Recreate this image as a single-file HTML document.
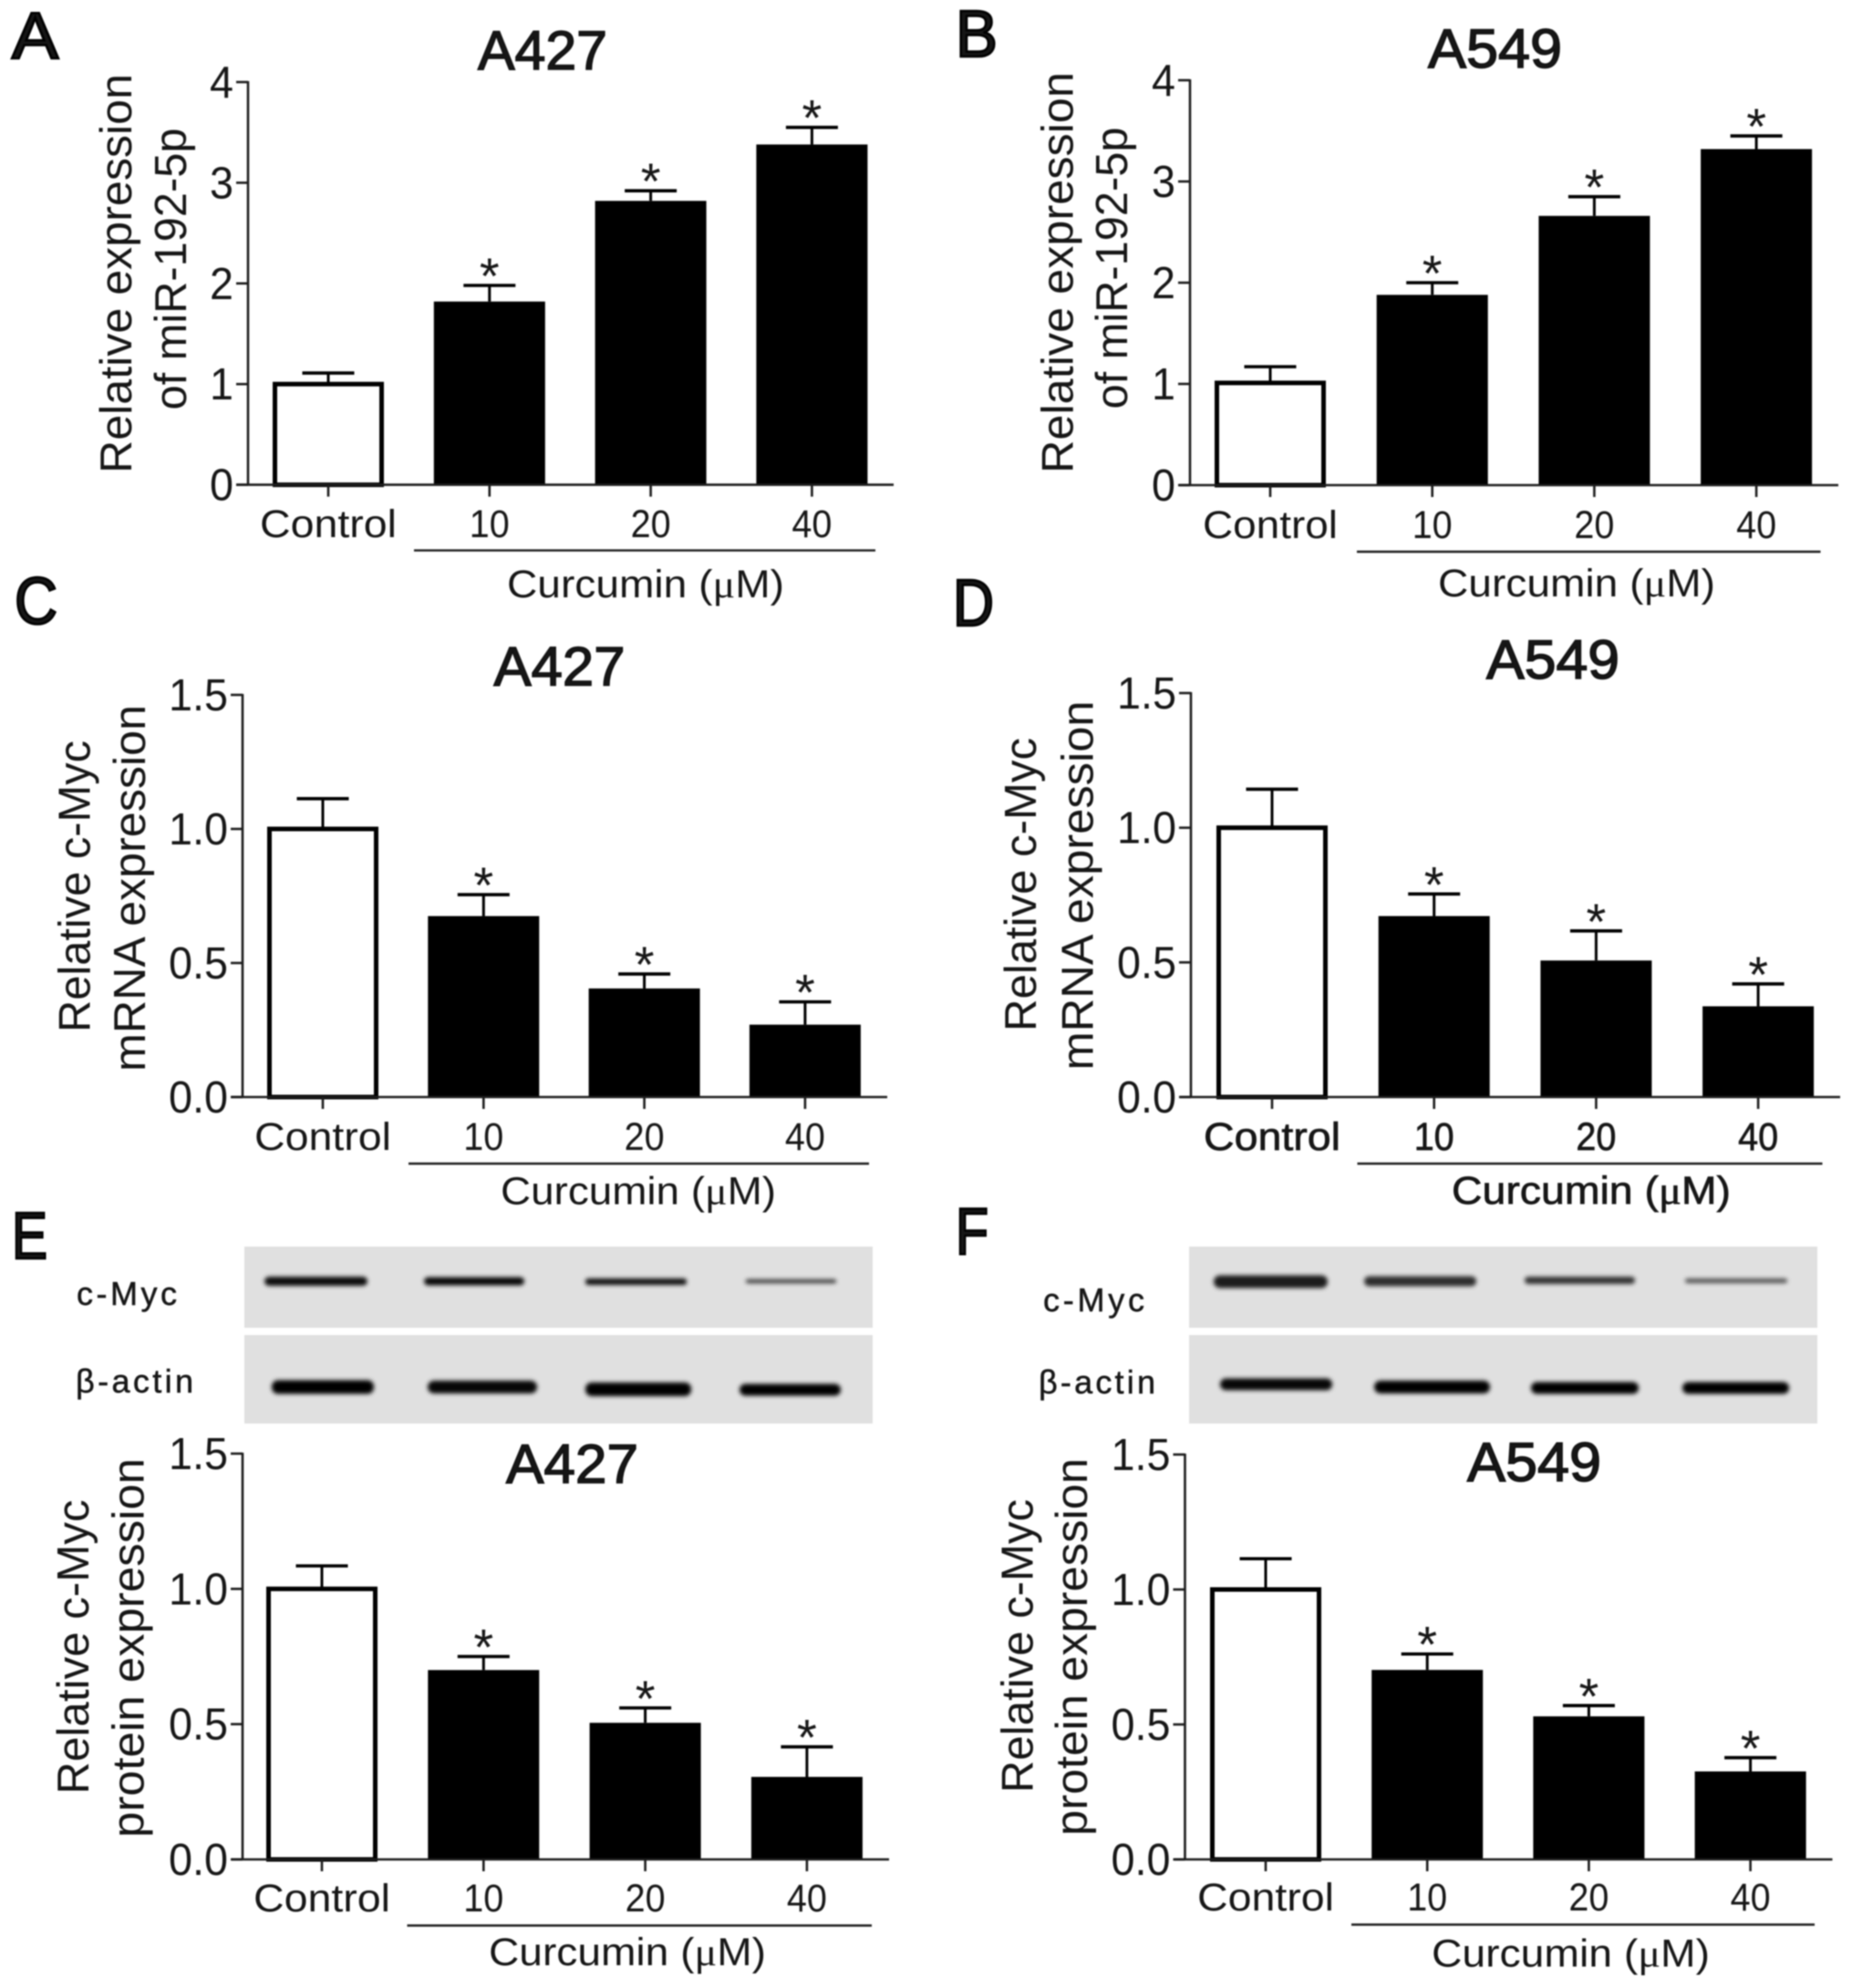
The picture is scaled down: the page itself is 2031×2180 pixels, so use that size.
<!DOCTYPE html>
<html>
<head>
<meta charset="utf-8">
<title>Curcumin effects on miR-192-5p and c-Myc in A427 and A549 cells</title>
<style>
html,body{margin:0;padding:0;background:#fff;width:2031px;height:2180px;overflow:hidden}
svg{display:block;filter:blur(0.8px)}
text{font-family:"Liberation Sans",Arial,sans-serif;fill:#161616}
.serif{font-family:"Liberation Serif","Liberation Sans",serif}
</style>
</head>
<body>
<svg id="figure" xmlns="http://www.w3.org/2000/svg" width="2031" height="2180" viewBox="0 0 2031 2180">
  <defs>
    <filter id="band-blur" x="-20%" y="-100%" width="140%" height="300%"><feGaussianBlur stdDeviation="2.4"/></filter>
  </defs>
  <g>
    <rect x="268" y="1367" width="689" height="89" fill="#e0e0e0"/>
    <rect x="268" y="1464" width="689" height="97" fill="#e0e0e0"/>
    <g filter="url(#band-blur)" fill="#000">
      <rect x="290" y="1400" width="113" height="10" rx="5" opacity=".95"/>
      <rect x="465" y="1400.5" width="110" height="9" rx="4.5" opacity=".97"/>
      <rect x="642" y="1402" width="111" height="7" rx="3" opacity=".95"/>
      <rect x="818" y="1403" width="99" height="4" rx="2" opacity=".8"/>
      <rect x="298" y="1513.5" width="112" height="15" rx="7" />
      <rect x="469" y="1514" width="120" height="14" rx="7" opacity=".97"/>
      <rect x="642" y="1516" width="116" height="15" rx="7"/>
      <rect x="811" y="1517.5" width="111" height="13" rx="6.5"/>
    </g>
  </g>
  <g>
    <rect x="1304" y="1367" width="689" height="89" fill="#e0e0e0"/>
    <rect x="1304" y="1464" width="689" height="97" fill="#e0e0e0"/>
    <g filter="url(#band-blur)" fill="#000">
      <rect x="1331" y="1398.5" width="125" height="14" rx="7" opacity=".88"/>
      <rect x="1496" y="1399.5" width="123" height="11" rx="5.5" opacity=".8"/>
      <rect x="1672" y="1400" width="121" height="8" rx="4" opacity=".78"/>
      <rect x="1848" y="1402" width="112" height="5" rx="2.5" opacity=".65"/>
      <rect x="1338" y="1511.5" width="123" height="13" rx="6.5" opacity=".97"/>
      <rect x="1507" y="1514" width="127" height="14" rx="7"/>
      <rect x="1679" y="1515.5" width="118" height="13" rx="6.5"/>
      <rect x="1845" y="1515.5" width="117" height="13" rx="6.5"/>
    </g>
  </g>
  <text x="84" y="1431" font-size="36" stroke="#161616" stroke-width="0.5" textLength="110" lengthAdjust="spacing">c-Myc</text>
  <text x="83" y="1527" font-size="36" stroke="#161616" stroke-width="0.5" textLength="129" lengthAdjust="spacing">β-actin</text>
  <text x="1144" y="1438" font-size="36" stroke="#161616" stroke-width="0.5" textLength="111" lengthAdjust="spacing">c-Myc</text>
  <text x="1139" y="1528" font-size="36" stroke="#161616" stroke-width="0.5" textLength="128" lengthAdjust="spacing">β-actin</text>
</svg>
<script>
// ---------- chart data ----------
const categories = ['Control', '10', '20', '40'];
const ticksMir = [0, 1, 2, 3, 4];
const tickLabelsMir = ['0', '1', '2', '3', '4'];
const ticksMyc = [0, 0.5, 1.0, 1.5];
const tickLabelsMyc = ['0.0', '0.5', '1.0', '1.5'];

const valuesA = [1.00, 1.82, 2.82, 3.38];
const errorsA = [0.11, 0.16, 0.10, 0.17];
const valuesB = [1.01, 1.88, 2.66, 3.32];
const errorsB = [0.16, 0.12, 0.19, 0.13];
const valuesC = [1.00, 0.675, 0.405, 0.27];
const errorsC = [0.113, 0.08, 0.054, 0.085];
const valuesD = [1.00, 0.672, 0.507, 0.337];
const errorsD = [0.143, 0.082, 0.11, 0.083];
const valuesE = [1.00, 0.70, 0.505, 0.305];
const errorsE = [0.085, 0.05, 0.055, 0.111];
const valuesF = [1.00, 0.702, 0.53, 0.326];
const errorsF = [0.114, 0.059, 0.04, 0.051];

const significant = [false, true, true, true];

// ---------- panel layout ----------
const panelA = {id:'a', letter:'A', lx:13, ly:64, lw:51, title:'A427', tx:595, ty:76, tw:142,
  axisX:272, yTop:90, y0:531.6, x0:259, x1:980, cx:360, step:176.8, yMax:4,
  values:valuesA, errors:errorsA, ticks:ticksMir, tickLabels:tickLabelsMir,
  yl1:'Relative expression', yl1x:144, yl1y:300, yl1w:438,
  yl2:'of miR-192-5p', yl2x:204, yl2y:295, yl2w:309,
  xBase:589, ctrlW:150, curX:708, curY:655, curW:304, ulX0:454, ulX1:960, ulY:603.6};
const panelB = {id:'b', letter:'B', lx:1048, ly:62, lw:46, title:'A549', tx:1639.5, ty:74, tw:147,
  axisX:1305, yTop:88, y0:532, x0:1293, x1:2016, cx:1393, step:177.7, yMax:4,
  values:valuesB, errors:errorsB, ticks:ticksMir, tickLabels:tickLabelsMir,
  yl1:'Relative expression', yl1x:1176.5, yl1y:299, yl1w:440,
  yl2:'of miR-192-5p', yl2x:1236, yl2y:294, yl2w:309,
  xBase:590, ctrlW:148, curX:1729, curY:654, curW:304, ulX0:1488, ulX1:1996.5, ulY:605};
const panelC = {id:'c', letter:'C', lx:16, ly:684, lw:47, title:'A427', tx:613.5, ty:751.6, tw:144,
  axisX:266, yTop:762, y0:1203, x0:254, x1:973, cx:354, step:176.3, yMax:1.5,
  values:valuesC, errors:errorsC, ticks:ticksMyc, tickLabels:tickLabelsMyc,
  yl1:'Relative c-Myc', yl1x:98.5, yl1y:972, yl1w:320,
  yl2:'mRNA expression', yl2x:159, yl2y:974, yl2w:402,
  xBase:1261, ctrlW:150, curX:700, curY:1320.5, curW:302, ulX0:448, ulX1:953, ulY:1276};
const panelD = {id:'d', letter:'D', lx:1045, ly:686, lw:45, title:'A549', tx:1703, ty:744, tw:146,
  axisX:1306, yTop:760, y0:1203, x0:1294, x1:2018, cx:1395, step:177.7, yMax:1.5,
  values:valuesD, errors:errorsD, ticks:ticksMyc, tickLabels:tickLabelsMyc,
  yl1:'Relative c-Myc', yl1x:1136, yl1y:970, yl1w:322,
  yl2:'mRNA expression', yl2x:1198.5, yl2y:971, yl2w:405,
  xBase:1261, ctrlW:150, curX:1745, curY:1320, curW:306, ulX0:1488.5, ulX1:1998.5, ulY:1276, heavy:true};
const panelE = {id:'e', letter:'E', lx:13, ly:1380, lw:39, title:'A427', tx:627.5, ty:1626, tw:145,
  axisX:266, yTop:1594, y0:2039, x0:254, x1:975, cx:353, step:177.3, yMax:1.5,
  values:valuesE, errors:errorsE, ticks:ticksMyc, tickLabels:tickLabelsMyc,
  yl1:'Relative c-Myc', yl1x:97, yl1y:1806, yl1w:323,
  yl2:'protein expression', yl2x:157.5, yl2y:1807, yl2w:416,
  xBase:2096, ctrlW:150, curX:688, curY:2155, curW:304, ulX0:446.5, ulX1:956, ulY:2111.5};
const panelF = {id:'f', letter:'F', lx:1048, ly:1375, lw:36, title:'A549', tx:1682.5, ty:1624, tw:147,
  axisX:1299.5, yTop:1595, y0:2039, x0:1288, x1:2009.5, cx:1388, step:177.2, yMax:1.5,
  values:valuesF, errors:errorsF, ticks:ticksMyc, tickLabels:tickLabelsMyc,
  yl1:'Relative c-Myc', yl1x:1132.5, yl1y:1805, yl1w:322,
  yl2:'protein expression', yl2x:1192, yl2y:1806, yl2w:414,
  xBase:2095, ctrlW:150, curX:1722.5, curY:2156.5, curW:305, ulX0:1482, ulX1:1990, ulY:2110.5};

const panels = [panelA, panelB, panelC, panelD, panelE, panelF];

// ---------- drawing ----------
const NS = 'http://www.w3.org/2000/svg';
const svg = document.getElementById('figure');
const INK = '#1c1c1c';

function mk(parent, tag, attrs, txt) {
  const el = document.createElementNS(NS, tag);
  for (const k in attrs) el.setAttribute(k, attrs[k]);
  if (txt !== undefined) el.textContent = txt;
  parent.appendChild(el);
  return el;
}

function drawPanel(p) {
  const yScale = v => p.y0 - (v / p.yMax) * (p.y0 - p.yTop);
  const xScale = i => p.cx + i * p.step;
  const heavy = p.heavy ? {stroke:'#161616', 'stroke-width':0.7} : {};

  const g = mk(svg, 'g', {});
  
  

  const letter = mk(g, 'text', {x:p.lx, y:p.ly, 'font-size':72, stroke:'#000', 'stroke-width':2.6, textLength:p.lw, lengthAdjust:'spacingAndGlyphs', fill:'#000'}, p.letter);
  
  

  const title = mk(g, 'text', {x:p.tx, y:p.ty, 'font-size':60, 'text-anchor':'middle', stroke:'#111', 'stroke-width':1.5, textLength:p.tw, lengthAdjust:'spacingAndGlyphs'}, p.title);
  
  

  // bars, error bars, stars
  p.values.forEach((v, i) => {
    const cx = xScale(i);
    const top = yScale(v);
    const errTop = yScale(v + p.errors[i]);

    const stem = mk(g, 'line', {x1:cx, x2:cx, y1:top, y2:errTop, stroke:'#000', 'stroke-width':3});
    
    

    const cap = mk(g, 'line', {x1:cx - 28.5, x2:cx + 28.5, y1:errTop, y2:errTop, stroke:'#000', 'stroke-width':3.6});
    
    

    const bar = i === 0
      ? mk(g, 'rect', {x:cx - 58.5, y:top, width:117, height:p.y0 - top, fill:'#fff', stroke:'#000', 'stroke-width':5})
      : mk(g, 'rect', {x:cx - 61, y:top, width:122, height:p.y0 - top, fill:'#000'});
    
    

    if (significant[i]) {
      const star = mk(g, 'text', {x:cx, y:errTop + 9, 'font-size':56, 'text-anchor':'middle'}, '*');
      
      
    }

    const tick = mk(g, 'line', {x1:cx, x2:cx, y1:p.y0, y2:p.y0 + 13, stroke:INK, 'stroke-width':2.6});
    
    

    const lab = mk(g, 'text', Object.assign({x:cx, y:p.xBase, 'font-size':43, 'text-anchor':'middle', textLength:i === 0 ? p.ctrlW : 44, lengthAdjust:'spacingAndGlyphs'}, heavy), categories[i]);
    
    
  });

  // axes
  const yAxis = mk(g, 'line', {x1:p.axisX, x2:p.axisX, y1:p.yTop - 1, y2:p.y0, stroke:INK, 'stroke-width':2.6});
  
  

  const xAxis = mk(g, 'line', {x1:p.x0, x2:p.x1, y1:p.y0, y2:p.y0, stroke:INK, 'stroke-width':2.6});
  
  

  p.ticks.forEach((t, i) => {
    const y = yScale(t);
    const tk = mk(g, 'line', {x1:p.axisX - 13, x2:p.axisX, y1:y, y2:y, stroke:INK, 'stroke-width':2.6});
    
    

    const lb = mk(g, 'text', {x:p.axisX - 16, y:y + 17, 'font-size':49, 'text-anchor':'end', textLength:p.tickLabels[i].length > 1 ? 65 : 26, lengthAdjust:'spacingAndGlyphs'}, p.tickLabels[i]);
    
    
  });

  // y-axis title (two lines)
  const yt1 = mk(g, 'text', {transform:'translate(' + p.yl1x + ',' + p.yl1y + ') rotate(-90)', 'font-size':49, 'text-anchor':'middle', textLength:p.yl1w, lengthAdjust:'spacingAndGlyphs'}, p.yl1);
  
  

  const yt2 = mk(g, 'text', {transform:'translate(' + p.yl2x + ',' + p.yl2y + ') rotate(-90)', 'font-size':49, 'text-anchor':'middle', textLength:p.yl2w, lengthAdjust:'spacingAndGlyphs'}, p.yl2);
  
  

  // treatment group underline and label
  const ul = mk(g, 'line', {x1:p.ulX0, x2:p.ulX1, y1:p.ulY, y2:p.ulY, stroke:INK, 'stroke-width':2.4});
  
  

  const cur = mk(g, 'text', Object.assign({x:p.curX, y:p.curY, 'font-size':43, 'text-anchor':'middle', textLength:p.curW, lengthAdjust:'spacingAndGlyphs'}, heavy));
  
  
  cur.appendChild(document.createTextNode('Curcumin ('));
  const mu = mk(cur, 'tspan', {class:'serif'}, 'μ');
  
  
  cur.appendChild(document.createTextNode('M)'));
}

panels.forEach(drawPanel);
</script>
</body>
</html>
